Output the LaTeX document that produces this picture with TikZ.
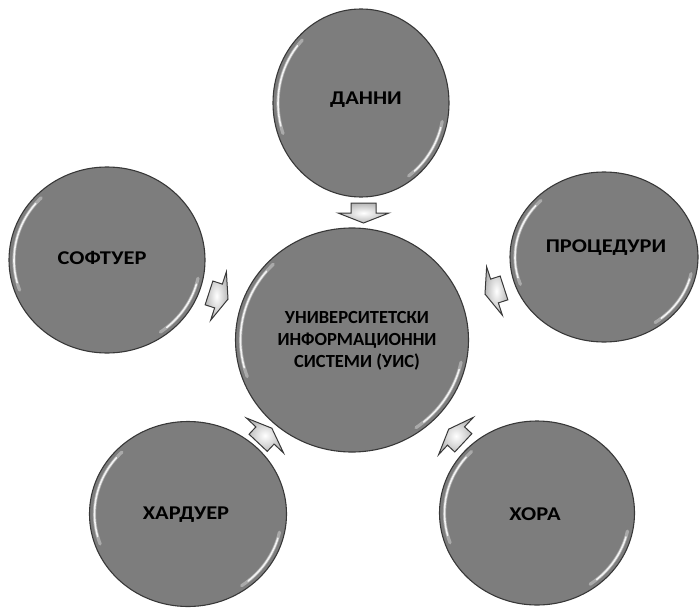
\documentclass[tikz,border=0pt]{standalone}
\usepackage{fontspec}
\setmainfont{Carlito}
\newfontfamily\widecarlito[FakeStretch=1.15]{Carlito}
\usetikzlibrary{shapes.geometric}
\tikzset{
  bubble/.style={ellipse, draw=black!78, line width=1.1pt, fill=black!51,
    inner sep=0pt},
  outerlabel/.style={font=\widecarlito\fontsize{19.5}{24}\selectfont\bfseries, text=black},
  innerlabel/.style={font=\fontsize{18.5}{22}\selectfont\bfseries, text=black, align=center},
  glosswide/.style={draw=white, line width=3.2pt, opacity=0.35, line cap=round},
  glossline/.style={draw=white, line width=1.6pt, opacity=0.85, line cap=round},
  blockarrow/.style={draw=black!78, line width=1pt, inner color=white, outer color=black!28, line join=miter}
}
\begin{document}
\begin{tikzpicture}[x=1pt,y=-1pt]
\useasboundingbox (0,0) rectangle (700,607);
% circles
\node[bubble, minimum width=176pt, minimum height=188pt] (dan) at (361,103) {};
\node[bubble, minimum width=196pt, minimum height=186pt] (sof) at (107,260) {};
\node[bubble, minimum width=188pt, minimum height=170pt] (pro) at (604,257) {};
\node[bubble, minimum width=197pt, minimum height=185pt] (har) at (188,514) {};
\node[bubble, minimum width=195pt, minimum height=184pt] (hor) at (537,513) {};
\node[bubble, minimum width=233pt, minimum height=224pt] (uis) at (352,340) {};
% gloss highlights
\foreach \cx/\cy/\rx/\ry in {361/103/88/94, 107/260/98/93, 604/257/94/85, 188/514/98.5/92.5, 537/513/97.5/92, 352/340/116.5/112}{
  \draw[glosswide] (\cx,\cy) ++(160:\rx-5 and \ry-5) arc[start angle=160, end angle=225, x radius=\rx-5, y radius=\ry-5];
  \draw[glossline] (\cx,\cy) ++(165:\rx-5 and \ry-5) arc[start angle=165, end angle=220, x radius=\rx-5, y radius=\ry-5];
  \draw[glosswide] (\cx,\cy) ++(12:\rx-5 and \ry-5) arc[start angle=12, end angle=55, x radius=\rx-5, y radius=\ry-5];
  \draw[glossline] (\cx,\cy) ++(16:\rx-5 and \ry-5) arc[start angle=16, end angle=50, x radius=\rx-5, y radius=\ry-5];
}
% labels
\node[outerlabel] (tdan) at (366,100) {ДАННИ};
\node[outerlabel] (tsof) at (102,258) {СОФТУЕР};
\node[outerlabel] (tpro) at (606,248) {ПРОЦЕДУРИ};
\node[outerlabel] (thar) at (186,515) {ХАРДУЕР};
\node[outerlabel] (thor) at (535,514) {ХОРА};
\node[innerlabel] (tuis) at (357,341) {УНИВЕРСИТЕТСКИ\\ИНФОРМАЦИОННИ\\СИСТЕМИ (УИС)};
% block arrows (pointing to the centre circle)
\foreach \mx/\my/\ang in {363.5/213/-90, 218.5/296/-18, 494.5/291/-162, 265/435.5/46.7, 456/436/137}{
  \draw[blockarrow, shift={(\mx,\my)}, rotate=\ang]
    (-10,-12.5) -- (0,-12.5) -- (0,-25.5) -- (10,0) -- (0,25.5) -- (0,12.5) -- (-10,12.5) -- cycle;
}
\end{tikzpicture}
\end{document}
